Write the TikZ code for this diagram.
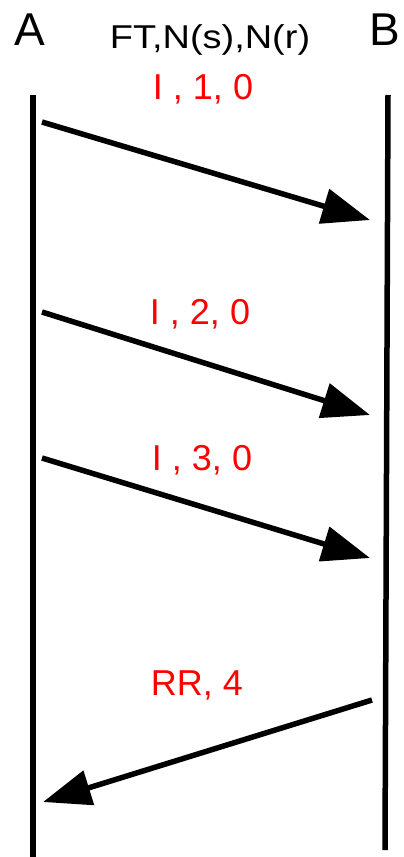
\documentclass[tikz,border=0pt]{standalone}
\usepackage{fontspec}
\setmainfont{Liberation Sans}
\newfontfamily\widefont[FakeStretch=1.15]{Liberation Sans}
\usetikzlibrary{arrows.meta}

\begin{document}
\begin{tikzpicture}[
  x=1pt, y=-1pt,
  party/.style={font=\fontsize{46}{46}\selectfont, anchor=base, inner sep=0pt},
  hdr/.style={font=\widefont\fontsize{33}{33}\selectfont, anchor=base, inner sep=0pt},
  frm/.style={red, font=\fontsize{36}{36}\selectfont, anchor=base, inner sep=0pt},
  life/.style={line width=5.5pt},
  msg/.style={line width=5.5pt, -{Triangle[length=48pt,width=35pt]}},
]
\useasboundingbox (0,0) rectangle (404,857);

\node[party] (pA) at (30,45) {A};
\node[party] (pB) at (385,45) {B};
\node[hdr]   (fmt) at (210,48) {FT,N(s),N(r)};

\coordinate (Atop) at (33,95);
\coordinate (Abot) at (33,857);
\coordinate (Btop) at (388,95);
\coordinate (Bbot) at (385,850);
\draw[life] (Atop) -- (Abot);
\draw[life] (Btop) -- (Bbot);

\coordinate (s1) at (42,122);  \coordinate (r1) at (370,220);
\coordinate (s2) at (42,312);  \coordinate (r2) at (370,415);
\coordinate (s3) at (42,458);  \coordinate (r3) at (370,558);
\coordinate (s4) at (372,700); \coordinate (r4) at (43,802);

\node[frm] (f1) at (203,99)  {I , 1, 0};
\node[frm] (f2) at (200,324) {I , 2, 0};
\node[frm] (f3) at (202,470) {I , 3, 0};
\node[frm] (f4) at (197,695) {RR, 4};

\draw[msg] (s1) -- (r1);
\draw[msg] (s2) -- (r2);
\draw[msg] (s3) -- (r3);
\draw[msg] (s4) -- (r4);
\end{tikzpicture}
\end{document}
